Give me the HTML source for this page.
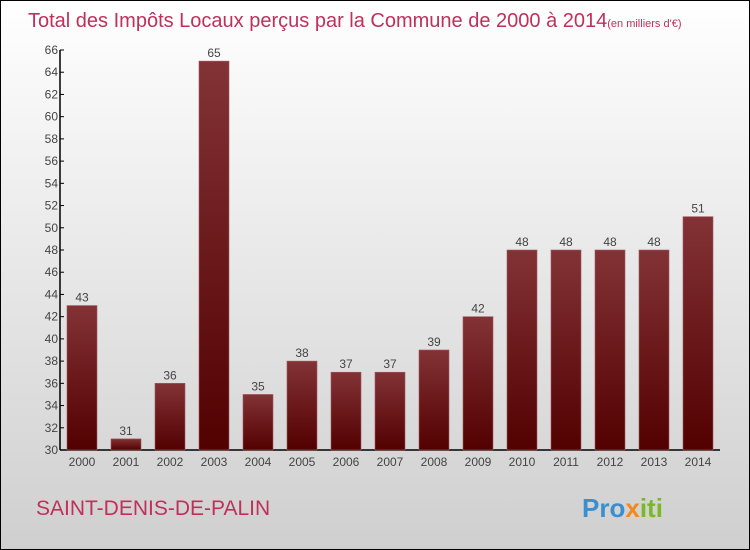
<!DOCTYPE html>
<html><head><meta charset="utf-8"><style>
body{margin:0;width:750px;height:550px;overflow:hidden;font-family:"Liberation Sans",sans-serif}
svg{display:block}
</style></head><body>
<svg width="750" height="550" xmlns="http://www.w3.org/2000/svg">
<defs>
<linearGradient id="bg" x1="0" y1="0" x2="0" y2="1"><stop offset="0" stop-color="#ffffff"/><stop offset="1" stop-color="#cfcfcf"/></linearGradient>
<linearGradient id="bar" x1="0" y1="0" x2="0" y2="1"><stop offset="0" stop-color="#833236"/><stop offset="1" stop-color="#520000"/></linearGradient>
</defs>
<rect x="0.5" y="0.5" width="749" height="549" fill="url(#bg)" stroke="#000"/>
<text x="28" y="27" font-size="20" fill="#c0305a">Total des Impôts Locaux perçus par la Commune de 2000 à 2014<tspan font-size="11">(en milliers d'€)</tspan></text>
<g id="axes"></g>
<g id="bars"></g>
<text x="36" y="515" font-size="21" fill="#c0305a">SAINT-DENIS-DE-PALIN</text>
<text x="582" y="517" font-size="26" font-weight="bold"><tspan fill="#3a8fd0">Pro</tspan><tspan fill="#f08a1c">x</tspan><tspan fill="#7ab828">iti</tspan></text>
</svg>
<script>
const years=["2000","2001","2002","2003","2004","2005","2006","2007","2008","2009","2010","2011","2012","2013","2014"];
const values=[43,31,36,65,35,38,37,37,39,42,48,48,48,48,51];
const yTicks=[30,32,34,36,38,40,42,44,46,48,50,52,54,56,58,60,62,64,66];
const NS="http://www.w3.org/2000/svg";
const yMin=30,yMax=66,plotTop=50,plotBottom=450,plotLeft=60;
const yS=v=>plotBottom-(v-yMin)/(yMax-yMin)*(plotBottom-plotTop);
const xS=i=>82+i*44;
const ax=document.getElementById('axes'),bg=document.getElementById('bars');
function mk(tag,attrs,parent){const e=document.createElementNS(NS,tag);for(const k in attrs)e.setAttribute(k,attrs[k]);parent.appendChild(e);return e;}
const yl=mk('line',{x1:plotLeft,y1:plotTop,x2:plotLeft,y2:plotBottom,stroke:'#000','stroke-width':1.5},ax);


const xl=mk('line',{x1:plotLeft,y1:plotBottom,x2:720,y2:plotBottom,stroke:'#000','stroke-width':1.5},ax);


yTicks.forEach(t=>{
 const tk=mk('line',{x1:plotLeft,y1:yS(t),x2:plotLeft+4,y2:yS(t),stroke:'#000'},ax);
 
 
 const tx=mk('text',{x:plotLeft-2,y:yS(t)+4,'font-size':12,'text-anchor':'end',fill:'#444'},ax);
 tx.textContent=t;
 
 
});
years.forEach((yr,i)=>{
 const r=mk('rect',{x:xS(i)-15,y:yS(values[i]),width:30,height:plotBottom-yS(values[i]),fill:'url(#bar)',stroke:'#a05a5e','stroke-width':0.6},bg);
 
 
 const v=mk('text',{x:xS(i),y:yS(values[i])-4,'font-size':12,'text-anchor':'middle',fill:'#444'},bg);
 v.textContent=values[i];
 
 
 const l=mk('text',{x:xS(i),y:466,'font-size':12,'text-anchor':'middle',fill:'#444'},bg);
 l.textContent=yr;
 
 
});
</script>
</body></html>
